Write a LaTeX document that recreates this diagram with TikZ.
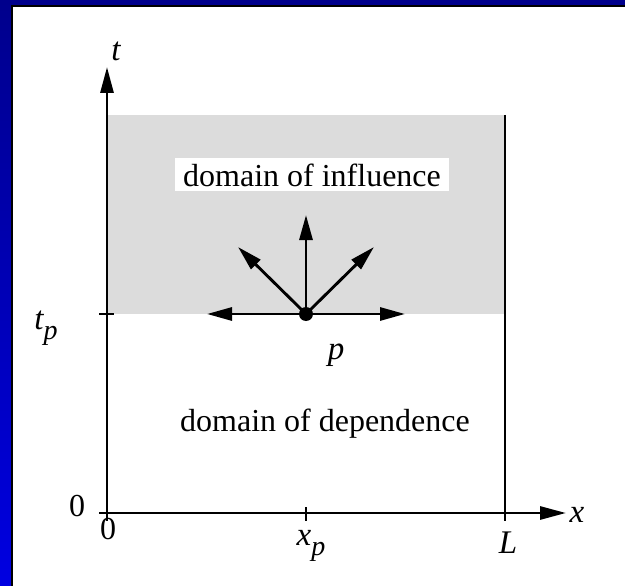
\documentclass[tikz,border=0pt]{standalone}
\usepackage{fontspec}
\setmainfont{Liberation Serif}
\usetikzlibrary{arrows.meta}
\definecolor{navy}{RGB}{0,0,140}
\definecolor{brightblue}{RGB}{0,0,225}
\definecolor{shadegray}{RGB}{220,220,220}
\begin{document}
\begin{tikzpicture}[x=1pt,y=-1pt,
  axis/.style={line width=2.9pt, -{Triangle[length=26pt,width=13pt]}},
  ray/.style={line width=2.9pt, -{Triangle[length=25pt,width=13pt]}},
  tick/.style={line width=2.9pt},
  lab/.style={font=\fontsize{33}{38}\selectfont\itshape, inner sep=0pt},
  num/.style={font=\fontsize{32}{38}\selectfont, inner sep=0pt},
  txt/.style={font=\fontsize{32}{38}\selectfont, inner sep=0pt}]
\useasboundingbox (0,0) rectangle (625,586);
\fill[white] (0,0) rectangle (625,586);
% frame
\shade[top color=navy, bottom color=brightblue] (0,0) rectangle (11,586);
\fill[navy] (0,0) rectangle (625,5);
\fill[black] (11,5) rectangle (13,586);
\fill[black] (11,5) rectangle (625,7);
% shaded region
\fill[shadegray] (107,115) rectangle (505,314);
% coordinates
\coordinate (O) at (107,513);
\coordinate (T) at (107,67);
\coordinate (X) at (566,513);
\coordinate (Rtop) at (505,115);
\coordinate (Rbot) at (505,521);
\coordinate (Ol) at (99,513);
\coordinate (Od) at (107,521);
\coordinate (tpl) at (99,314);
\coordinate (tpr) at (114,314);
\coordinate (xpu) at (306,507);
\coordinate (xpd) at (306,521);
% axes
\draw[axis] (O) -- (T);
\draw[axis] (O) -- (X);
\draw[tick] (Ol) -- (O) -- (Od);
\draw[tick] (Rtop) -- (Rbot);
\draw[tick] (tpl) -- (tpr);
\draw[tick] (xpu) -- (xpd);
% rays from p
\coordinate (P) at (306,314);
\coordinate (eL) at (207,314);
\coordinate (eR) at (405,314);
\coordinate (eU) at (306,215);
\coordinate (eUL) at (238,247);
\coordinate (eUR) at (374,247);
\draw[ray] (P) -- (eL);
\draw[ray] (P) -- (eR);
\draw[ray] (P) -- (eU);
\draw[ray] (P) -- (eUL);
\draw[ray] (P) -- (eUR);
\node[circle, fill=black, inner sep=0pt, minimum size=14pt] (pdot) at (P) {};
% labels
\node[lab] (tlab) at (116,51) {t};
\node[lab] (tplab) at (46,328) {t\raisebox{-0.3em}{\fontsize{28}{30}\selectfont p}};
\node[num] (zl) at (77,506) {0};
\node[num] (zb) at (108,529) {0};
\node[lab] (xplab) at (311,546) {x\raisebox{-0.3em}{\fontsize{28}{30}\selectfont p}};
\node[lab] (Llab) at (508,543) {L};
\node[lab] (xlab) at (577,515) {x};
\node[lab] (plab) at (336,355) {p};
\node[txt, fill=white, minimum width=274pt, minimum height=33pt] (infl) at (312,175) {domain of influence};
\node[txt] (dep) at (325,424) {domain of dependence};
\end{tikzpicture}
\end{document}
